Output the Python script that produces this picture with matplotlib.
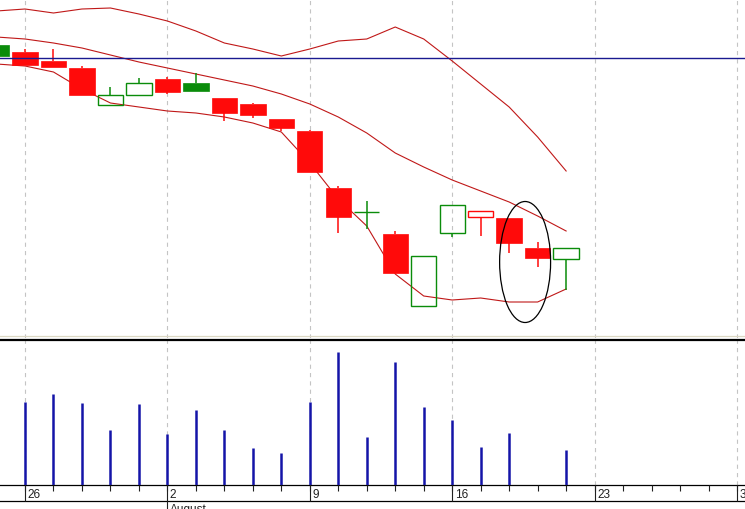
import numpy as np
import pandas as pd
import matplotlib
matplotlib.use("Agg")
import matplotlib.pyplot as plt
from matplotlib.patches import Rectangle, Ellipse

plt.rcParams["font.family"] = ["Liberation Sans", "DejaVu Sans"]
plt.rcParams["lines.scale_dashes"] = False

# ---------------- data ----------------
start_date = "2010-07-23"          # first (partly visible) trading day
n_axis_days = 29                   # trading days shown on the date axis
close_before = 340.0               # close of the day before the first candle

opens  = [354.0, 347.3, 338.0, 331.0, 294.3, 304.3, 320.0, 316.0, 301.0, 295.0, 280.0,
          268.3, 211.0, 187.0, 165.0, 92.7, 166.0, 181.7, 180.7, 150.7, 139.7]
closes = [343.3, 334.3, 332.3, 304.3, 304.5, 315.7, 307.3, 308.3, 286.3, 284.3, 270.7,
          227.3, 181.7, 187.0, 125.7, 142.7, 194.0, 188.3, 155.7, 141.3, 151.3]
highs  = [354.0, 350.0, 350.0, 333.3, 312.0, 321.0, 321.7, 326.0, 301.0, 296.0, 280.0,
          269.0, 212.7, 197.7, 167.7, 142.7, 194.0, 188.3, 180.7, 157.3, 151.3]
lows   = [343.3, 334.3, 332.3, 304.3, 294.3, 304.3, 305.0, 308.3, 277.7, 280.7, 268.0,
          227.3, 166.0, 170.0, 125.7, 92.7, 161.7, 162.7, 145.7, 132.3, 109.3]

band_upper  = [388, 390, 386, 390, 391, 385, 378, 368, 356, 350, 343,
               350, 358, 360, 372, 360, 338, 315, 292, 262, 228]
band_middle = [362, 360, 356, 351, 344, 337, 331, 325, 319, 313, 305,
               295, 282, 266, 246, 232, 219, 208, 197, 183, 168]
band_lower  = [335, 333, 327, 310, 296, 292, 288, 286, 282, 276, 267,
               236, 200, 173, 125, 103, 99, 101, 97, 97, 110]

# volume from the second trading day (26 Jul) onward
volumes = [83000, 91000, 82000, 55000, 81000, 51000, 75000, 55000, 37000, 32000,
           83000, 133000, 48000, 123000, 78000, 65000, 38000, 52000, 0, 35000]

level_line = 340.7                 # horizontal reference level
ellipse_center = (17.56, 137.0)    # (trading-day index, price)
ellipse_size = (1.79, 121.0)

# ---------------- layout ----------------
W, H = 745, 510
fig = plt.figure(figsize=(W / 100, H / 100), dpi=100)
fig.patch.set_facecolor("white")

px_per_day = 28.48
x0_px = 25.0
xlim = (-x0_px / px_per_day, (W - x0_px) / px_per_day)

ax_p = fig.add_axes([0, (H - 339) / H, 1, 339 / H])
ax_v = fig.add_axes([0, (H - 486) / H, 1, (486 - 341) / H])
ax_d = fig.add_axes([0, 0, 1, 24 / H])

for ax in (ax_p, ax_v, ax_d):
    ax.set_xlim(*xlim)
    ax.set_xticks([])
    ax.set_yticks([])
    for s in ax.spines.values():
        s.set_visible(False)
    ax.set_facecolor("none")

ax_p.set_ylim(61, 400)
ax_v.set_ylim(0, 145000)
ax_d.set_ylim(24, 0)

dates = pd.bdate_range(start_date, periods=n_axis_days)
pos = np.arange(n_axis_days) - 1
mondays = pos[dates.dayofweek == 0]
month_starts = pos[1:][dates.month[1:] != dates.month[:-1]]

grid_kw = dict(color="#c4c4c4", lw=0.8, linestyle=(0, (3, 3)), zorder=0)
for m in mondays:
    ax_p.axvline(m, **grid_kw)
    ax_v.axvline(m, **grid_kw)

# ---------------- price panel ----------------
n = len(opens)
cx = pos[:n]
band_color = "#c01818"
ax_p.plot(cx, band_upper, color=band_color, lw=0.8, zorder=2)
ax_p.plot(cx, band_middle, color=band_color, lw=0.8, zorder=2)
ax_p.plot(cx, band_lower, color=band_color, lw=0.8, zorder=2)

green = "#0a8c0a"
red = "#ff0a0a"
body_w = 0.89
prev = close_before
for k in range(n):
    o, c, h, l = opens[k], closes[k], highs[k], lows[k]
    col = green if c >= prev else red
    prev = c
    lo_b, hi_b = min(o, c), max(o, c)
    hollow = c >= o
    if h > hi_b:
        ax_p.plot([cx[k], cx[k]], [hi_b, h], color=col, lw=1.1, zorder=3,
                  solid_capstyle="butt")
    if l < lo_b:
        ax_p.plot([cx[k], cx[k]], [l, lo_b], color=col, lw=1.1, zorder=3,
                  solid_capstyle="butt")
    if hollow:
        ax_p.add_patch(Rectangle((cx[k] - body_w / 2, lo_b), body_w, hi_b - lo_b,
                                 facecolor="none", edgecolor=col, lw=1.0, zorder=4))
    else:
        ax_p.add_patch(Rectangle((cx[k] - body_w / 2, lo_b), body_w, hi_b - lo_b,
                                 facecolor=col, edgecolor=col, lw=0.5, zorder=4))

ax_p.axhline(level_line, color="#1a1a90", lw=1.0, zorder=5)
ax_p.axhline(62.6, color="#dcd8c4", lw=0.9, zorder=1)
ax_p.add_patch(Ellipse(ellipse_center, ellipse_size[0], ellipse_size[1],
                       fill=False, edgecolor="black", lw=0.9, zorder=6))

# ---------------- volume panel ----------------
vx = pos[1:1 + len(volumes)]
ax_v.vlines(vx, 0, volumes, color="#1414a8", lw=1.8, zorder=3)
ax_v.spines["top"].set_visible(True)
ax_v.spines["top"].set_linewidth(1.6)
ax_v.spines["top"].set_color("black")
ax_v.spines["bottom"].set_visible(True)
ax_v.spines["bottom"].set_linewidth(0.9)
ax_v.spines["bottom"].set_color("black")

# ---------------- date strip ----------------
ax_d.axhline(16, color="black", lw=0.9)
ax_d.vlines(pos, 0, 5.5, color="#202020", lw=0.8)
ax_d.vlines(mondays, 0, 16, color="#202020", lw=0.8)
ax_d.vlines(month_starts, 16, 24, color="#202020", lw=0.8)
for m in mondays:
    d = dates[m + 1]
    ax_d.text(m + 2.5 / px_per_day, 8.8, str(d.day), ha="left", va="center",
              fontsize=8.5, color="#202020")
for m in month_starts:
    d = dates[m + 1]
    ax_d.text(m + 2.5 / px_per_day, 17.5, d.strftime("%B"), ha="left", va="top",
              fontsize=8.5, color="#202020")

fig.savefig("out.png", dpi=100, facecolor="white")
